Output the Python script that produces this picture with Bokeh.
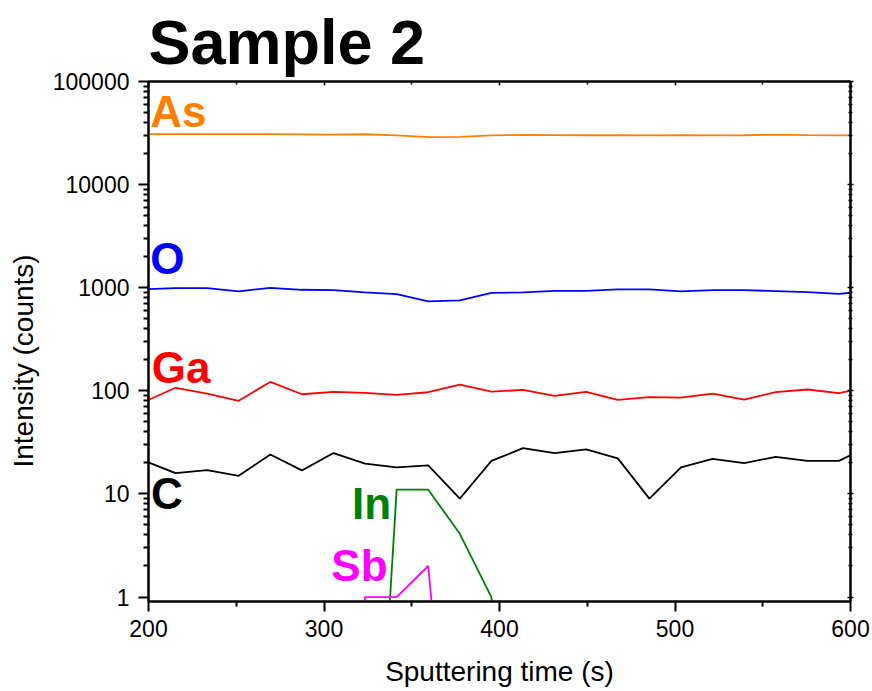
import math
from bokeh.plotting import figure
from bokeh.models import (Label, LinearAxis, LogAxis, FixedTicker, Range1d, Title)
from bokeh.embed import file_html
from bokeh.resources import INLINE

# ---------------- data ----------------
time_s = [197.4, 215.4, 233.4, 251.4, 269.4, 287.4, 305.4, 323.4, 341.4, 359.4,
          377.4, 395.4, 413.4, 431.4, 449.4, 467.4, 485.4, 503.4, 521.4, 539.4,
          557.4, 575.4, 593.4, 611.4]
as_counts = [30900, 30900, 30900, 30900, 30900, 30700, 30500, 30800, 30000, 28900,
             29100, 30000, 30300, 30200, 30100, 30100, 30000, 30100, 30000, 30100,
             30500, 30200, 30000, 30000]
o_counts = [965, 991, 991, 920, 998, 955, 948, 901, 867, 737,
            753, 893, 901, 933, 933, 964, 964, 920, 948, 948,
            927, 906, 873, 927]
ga_counts = [78, 107, 94, 80, 122, 92.6, 97.5, 95.4, 91.3, 96.9,
             115, 98.2, 102, 89.3, 97.5, 81.7, 86.8, 86, 94, 82.3,
             96.9, 103, 94.9, 110]
c_counts = [21, 15.9, 17.0, 15.0, 24.1, 16.9, 24.9, 19.7, 18.1, 18.9,
            9.0, 20.9, 27.8, 24.9, 27.0, 22.1, 9.0, 18.1, 21.9, 19.9,
            22.9, 20.9, 20.9, 29.6]
in_time = [323.4, 341.4, 359.4, 377.4, 395.4, 413.4]
in_counts = [1e-4, 11, 11, 4.1, 1.0, 1e-4]
sb_time = [305.4, 323.4, 341.4, 359.4, 377.4]
sb_counts = [1e-3, 1, 1, 2, 1e-3]

x_ticks = [200, 300, 400, 500, 600]
y_ticks = [1, 10, 100, 1000, 10000, 100000]
y_tick_labels = ["1", "10", "100", "1000", "10000", "100000"]

FONT = "Liberation Sans"

p = figure(width=872, height=691, output_backend="svg", toolbar_location=None,
           y_axis_type="log", x_range=Range1d(200, 600), y_range=Range1d(0.905, 100000),
           min_border_left=148, min_border_right=22, min_border_top=80,
           min_border_bottom=90, title=None)
p.xgrid.visible = False
p.ygrid.visible = False
p.outline_line_color = "black"
p.outline_line_width = 2
p.background_fill_color = "white"
p.border_fill_color = "white"

y_minor = [m * 10 ** k for k in range(0, 5) for m in range(2, 10)]
y_ticker = FixedTicker(ticks=y_ticks, minor_ticks=y_minor)
x_ticker = FixedTicker(ticks=x_ticks, minor_ticks=[250, 350, 450, 550])

xa = p.xaxis[0]
xa.ticker = x_ticker
xa.axis_label = "Sputtering time (s)"
ya = p.yaxis[0]
ya.ticker = y_ticker
# trailing no-break spaces shift the centred label down, as in the reference
ya.axis_label = "Intensity (counts)" + "\u00a0" * 5
ya.major_label_overrides = {t: s for t, s in zip(y_ticks, y_tick_labels)}

for ax in (xa, ya):
    ax.axis_line_width = 2
    ax.axis_line_color = "black"
    ax.major_tick_line_width = 2
    ax.minor_tick_line_width = 2
    ax.major_tick_line_color = "black"
    ax.minor_tick_line_color = "black"
    ax.major_tick_in = 0
    ax.major_tick_out = 10
    ax.minor_tick_in = 0
    ax.minor_tick_out = 5
    ax.major_label_text_font = FONT
    ax.major_label_text_font_size = "23px"
    ax.major_label_text_color = "black"
    ax.axis_label_text_font = FONT
    ax.axis_label_text_font_size = "28px"
    ax.axis_label_text_font_style = "normal"
    ax.axis_label_text_color = "black"
xa.major_label_standoff = 8
xa.axis_label_standoff = 16
ya.major_label_standoff = 9
ya.axis_label_standoff = 11

right = LogAxis(ticker=y_ticker, major_label_text_color=None,
                major_label_text_font_size="0px", axis_line_width=2,
                major_tick_in=3, major_tick_out=3, minor_tick_in=2, minor_tick_out=2,
                major_tick_line_width=1.5, minor_tick_line_width=1.5)
p.add_layout(right, "right")
top = LinearAxis(ticker=x_ticker, major_label_text_color=None,
                 major_label_text_font_size="0px", major_label_standoff=0,
                 axis_line_width=2,
                 major_tick_in=4, major_tick_out=0, minor_tick_in=3, minor_tick_out=0,
                 major_tick_line_width=1.5, minor_tick_line_width=1.5)
p.add_layout(top, "above")

title = Title(text="Sample 2", text_font=FONT, text_font_size="63px",
              text_font_style="bold", text_color="black", align="left",
              standoff=9)
p.add_layout(title, "above")

LW = 1.8
p.line(time_s, as_counts, line_color="#FF8000", line_width=LW)
p.line(time_s, o_counts, line_color="#0000FF", line_width=LW)
p.line(time_s, ga_counts, line_color="#FF0000", line_width=LW)
p.line(time_s, c_counts, line_color="#000000", line_width=LW)
p.line(in_time, in_counts, line_color="#008000", line_width=LW)
p.line(sb_time, sb_counts, line_color="#FF00FF", line_width=LW)

def lab(x, y, text, color, size="44px"):
    p.add_layout(Label(x=x, y=y, text=text, text_color=color, text_font=FONT,
                       text_font_size=size, text_font_style="bold",
                       text_baseline="alphabetic", text_align="left"))

lab(201.0, 51500, "As", "#FF8000")
lab(201.0, 1930, "O", "#0000FF")
lab(201.8, 169, "Ga", "#FF0000")
lab(201.4, 10.2, "C", "#000000")
lab(316.0, 8.15, "In", "#008000")
lab(304.2, 2.03, "Sb", "#FF00FF")

open("out.html", "w").write(file_html(p, INLINE))
